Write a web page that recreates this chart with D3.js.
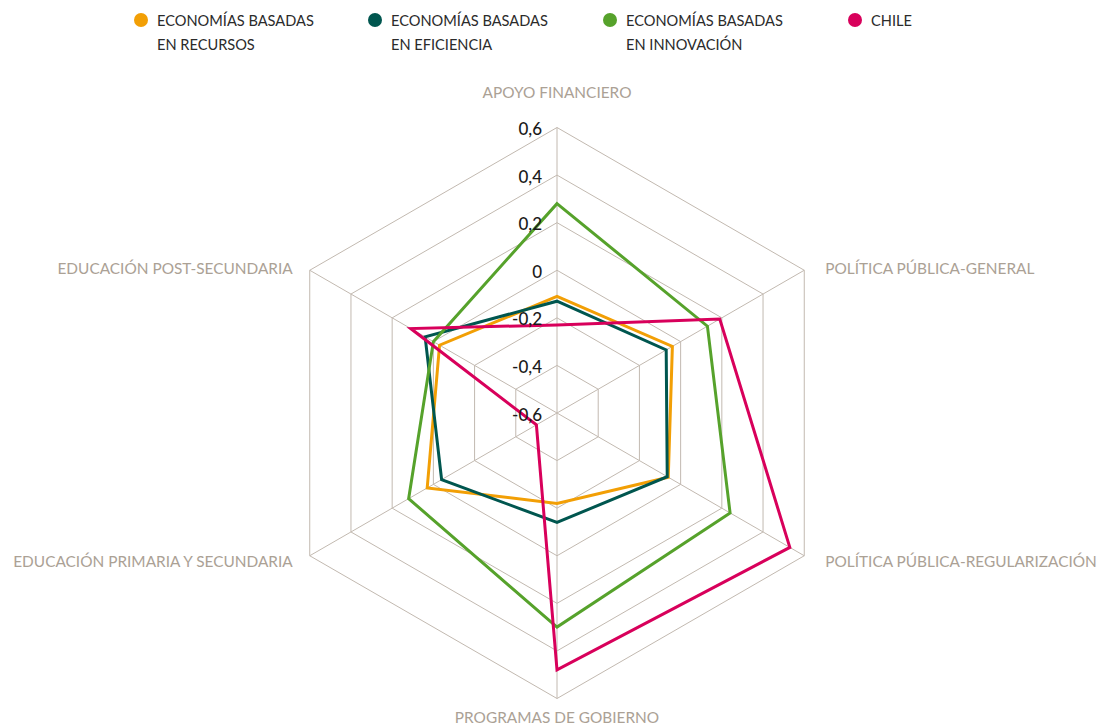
<!DOCTYPE html>
<html>
<head>
<meta charset="utf-8">
<script src="https://cdn.jsdelivr.net/npm/d3@7"></script>
<style>
  body { margin: 0; background: #fff; }
  svg { font-family: Lato, "Open Sans", sans-serif; }
</style>
</head>
<body>
<div id="chart"></div>
<script>
// axes, clockwise from the top
const axes = [
  "APOYO FINANCIERO",
  "POLÍTICA PÚBLICA-GENERAL",
  "POLÍTICA PÚBLICA-REGULARIZACIÓN",
  "PROGRAMAS DE GOBIERNO",
  "EDUCACIÓN PRIMARIA Y SECUNDARIA",
  "EDUCACIÓN POST-SECUNDARIA"
];

const seriesNames = [
  ["ECONOMÍAS BASADAS", "EN RECURSOS"],
  ["ECONOMÍAS BASADAS", "EN EFICIENCIA"],
  ["ECONOMÍAS BASADAS", "EN INNOVACIÓN"],
  ["CHILE"]
];

const recursos   = [-0.11, -0.04, -0.06, -0.22, 0.03, -0.03];
const eficiencia = [-0.13, -0.07, -0.065, -0.14, -0.04, 0.04];
const innovacion = [0.28, 0.13, 0.24, 0.30, 0.12, 0.0];
const chile      = [-0.23, 0.19, 0.53, 0.48, -0.50, 0.11];

const tickValues = [-0.6, -0.4, -0.2, 0, 0.2, 0.4, 0.6];
const tickLabels = ["-0,6", "-0,4", "-0,2", "0", "0,2", "0,4", "0,6"];

const COLORS = ["#F29F05", "#00564F", "#56A22B", "#D8005B"];
const GRID = "#C2B9B0";
const AXIS_TEXT = "#ABA195";

const W = 1100, H = 725;
const cx = 557, cy = 413, R = 285.5;

const rScale = d3.scaleLinear().domain([-0.6, 0.6]).range([0, R]);
const angle = d3.scaleLinear().domain([0, axes.length]).range([0, 2 * Math.PI]);

function pt(i, v) {
  const a = angle(i), r = rScale(v);
  return [cx + r * Math.sin(a), cy - r * Math.cos(a)];
}

const svg = d3.select("#chart").append("svg")
  .attr("width", W).attr("height", H);

const g = svg.append("g");

// grid hexagons
tickValues.filter(v => v > -0.6).forEach(v => {
  g.append("polygon")
    .attr("points", axes.map((_, i) => pt(i, v).join(",")).join(" "))
    .attr("fill", "none")
    .attr("stroke", GRID)
    .attr("stroke-width", 1);
});

// spokes
axes.forEach((_, i) => {
  const [x, y] = pt(i, 0.6);
  g.append("line")
    .attr("x1", cx).attr("y1", cy).attr("x2", x).attr("y2", y)
    .attr("stroke", GRID).attr("stroke-width", 1);
});

// axis labels
axes.forEach((name, i) => {
  const [x, y] = pt(i, 0.6);
  const s = Math.sin(angle(i)), c = Math.cos(angle(i));
  let tx = x, ty = y, anchor = "middle";
  if (Math.abs(s) < 0.01) {
    ty = c > 0 ? y - 36 : y + 18;
  } else {
    anchor = s > 0 ? "start" : "end";
    tx = x + (s > 0 ? 21 : -17);
    ty = c > 0 ? y - 2 : y + 5;
  }
  g.append("text")
    .attr("x", tx).attr("y", ty)
    .attr("text-anchor", anchor)
    .attr("dominant-baseline", "central")
    .style("font-size", "15.4px")
    .style("fill", AXIS_TEXT)
    .text(name);
});

// series
const lineGen = d3.lineRadial()
  .angle((d, i) => angle(i))
  .radius(d => rScale(d))
  .curve(d3.curveLinearClosed);

const dataSets = [recursos, eficiencia, innovacion, chile];
const seriesG = g.append("g").attr("transform", `translate(${cx},${cy})`);
dataSets.forEach((vals, k) => {
  seriesG.append("path")
    .attr("d", lineGen(vals))
    .attr("fill", "none")
    .attr("stroke", COLORS[k])
    .attr("stroke-width", 3)
    .attr("stroke-linejoin", "miter");
});

// tick labels
tickValues.forEach((v, j) => {
  g.append("text")
    .attr("x", cx - 15)
    .attr("y", cy - rScale(v) + 1)
    .attr("text-anchor", "end")
    .attr("dominant-baseline", "central")
    .style("font-size", "17px")
    .style("font-weight", "500")
    .style("fill", "#1A1A1A")
    .text(tickLabels[j]);
});

// legend
const legendX = [141, 375, 610, 855];
const legend = svg.append("g");
seriesNames.forEach((lines, k) => {
  const lg = legend.append("g").attr("transform", `translate(${legendX[k]},20)`);
  lg.append("circle").attr("r", 7).attr("fill", COLORS[k]);
  lines.forEach((t, j) => {
    lg.append("text")
      .attr("x", 16).attr("y", j * 24)
      .attr("dominant-baseline", "central")
      .style("font-size", "14.6px")
      .style("fill", "#2B2B2B")
      .text(t);
  });
});
</script>
</body>
</html>
